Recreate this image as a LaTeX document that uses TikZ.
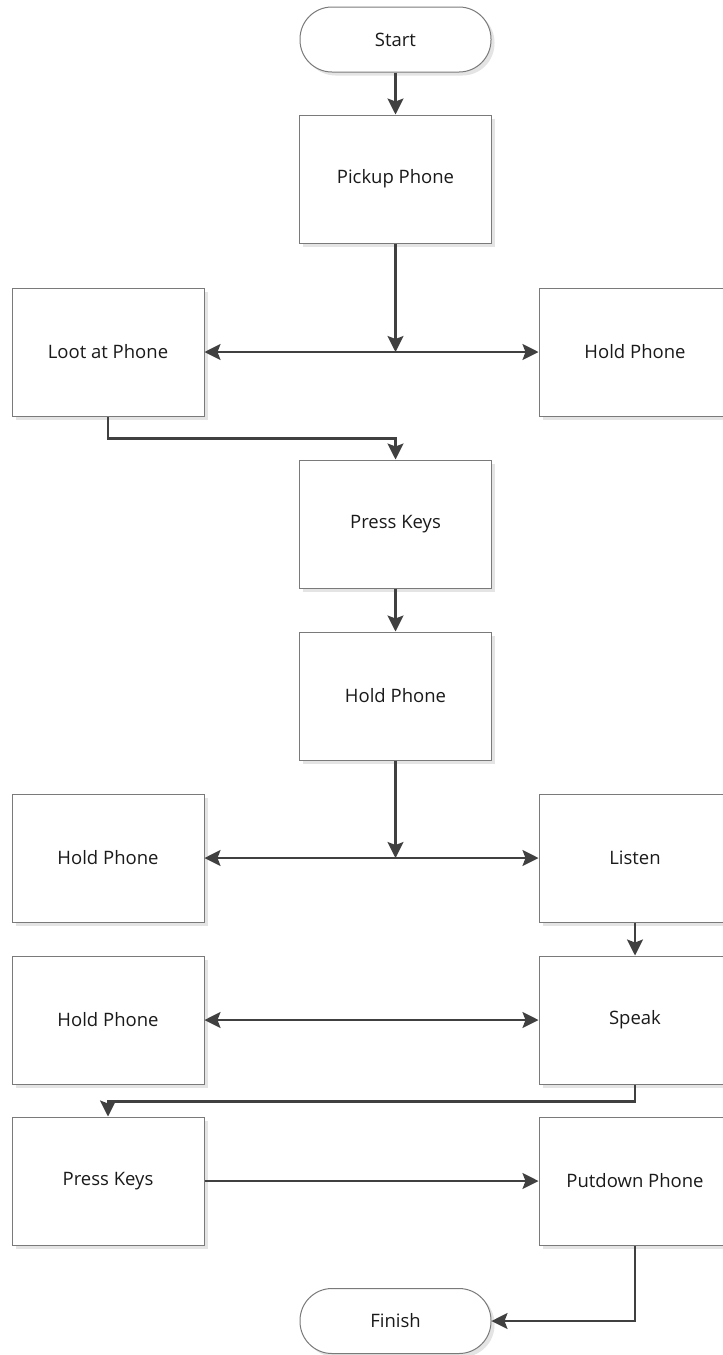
\documentclass[tikz,border=0pt]{standalone}
\usepackage{fontspec}
\setmainfont{Open Sans}
\usetikzlibrary{arrows.meta,shadows}
\definecolor{boxline}{HTML}{7A7A7A}
\definecolor{flow}{HTML}{404040}
\definecolor{shade}{HTML}{E4E4E4}
\definecolor{label}{HTML}{1A1A1A}
\tikzset{
  base/.style={draw=boxline, line width=1pt, fill=white, inner sep=0pt,
    text=label, font=\fontsize{18.5}{22}\selectfont,
    copy shadow={shadow xshift=3.5pt, shadow yshift=-3.5pt, draw=none, fill=shade}},
  process/.style={base, rectangle, minimum width=192pt, minimum height=128pt},
  terminal/.style={base, rectangle, rounded corners=32pt, minimum width=191pt, minimum height=65pt},
  flowline/.style={draw=flow, line width=2.2pt},
  arr/.style={flowline, -{Stealth[length=16pt, width=16pt, inset=3pt]}},
  arrboth/.style={flowline, {Stealth[length=16pt, width=16pt, inset=3pt]}-{Stealth[length=16pt, width=16pt, inset=3pt]}}
}
\begin{document}
\begin{tikzpicture}[x=1pt, y=-1pt]
  \useasboundingbox (0,0) rectangle (723,1355);
  \clip (0,0) rectangle (723,1355);

  % nodes
  \node[terminal] (start)   at (395.5,39.5) {Start};
  \node[process]  (pickup)  at (395.5,179)  {Pickup Phone};
  \node[process]  (loot)    at (108,352)    {Loot at Phone};
  \node[process]  (holdA)   at (635,352)    {Hold Phone};
  \node[process]  (press1)  at (395.5,524)  {Press Keys};
  \node[process]  (holdB)   at (395.5,696)  {Hold Phone};
  \node[process]  (holdC)   at (108,858)    {Hold Phone};
  \node[process]  (listen)  at (635,858)    {Listen};
  \node[process]  (holdD)   at (108,1020)   {Hold Phone};
  \node[process]  (speak)   at (635,1020)   {Speak};
  \node[process]  (press2)  at (108,1181)   {Press Keys};
  \node[process]  (putdown) at (635,1181)   {Putdown Phone};
  \node[terminal] (finish)  at (395.5,1321) {Finish};

  % junctions where a line splits in two
  \coordinate (j1) at (395.5,352);
  \coordinate (j2) at (395.5,858);

  % connectors
  \draw[arr] (start) -- (pickup);
  \draw[arr] (pickup) -- (j1);
  \draw[arr] (j1) -- (loot);
  \draw[arr] (j1) -- (holdA);
  \draw[arr] (loot.south) -- ++(0,22) -| (press1.north);
  \draw[arr] (press1) -- (holdB);
  \draw[arr] (holdB) -- (j2);
  \draw[arr] (j2) -- (holdC);
  \draw[arr] (j2) -- (listen);
  \draw[arr] (listen) -- (speak);
  \draw[arrboth] (holdD) -- (speak);
  \draw[arr] (speak.south) -- ++(0,17) -| (press2.north);
  \draw[arr] (press2) -- (putdown);
  \draw[arr] (putdown.south) |- (finish.east);
\end{tikzpicture}
\end{document}
